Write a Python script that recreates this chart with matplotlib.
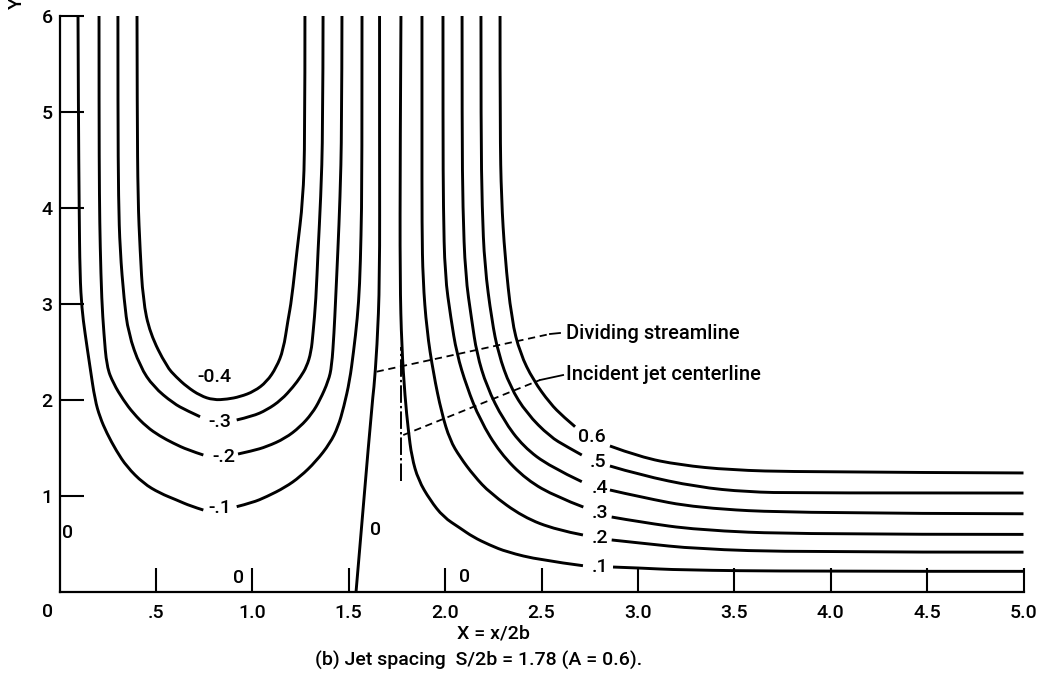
import matplotlib
matplotlib.use("Agg")
import matplotlib.pyplot as plt
from matplotlib.path import Path
from matplotlib.patches import PathPatch

plt.rcParams['font.family'] = ['Roboto', 'DejaVu Sans']
plt.rcParams['font.weight'] = 'medium'

# traced streamlines, labelled by stream-function value
# psi = -0.4 (label sits above the loop, line is unbroken)
m04_x = [0.402, 0.403, 0.407, 0.418, 0.433, 0.469, 0.556, 0.605, 0.660, 0.730, 0.798, 0.870,
         0.936, 1.010, 1.075, 1.125, 1.161, 1.185, 1.204, 1.232, 1.263, 1.273, 1.273]
m04_y = [6.0, 5.0, 4.083, 3.5625, 3.042, 2.695, 2.347, 2.24, 2.139, 2.045, 2.0, 2.008,
         2.034, 2.09, 2.19, 2.34, 2.521, 2.833, 3.042, 3.5625, 4.083, 4.7, 6.0]

# psi = -0.3, left and right of its label
m03a_x = [0.303, 0.303, 0.306, 0.314, 0.335, 0.357, 0.418, 0.487, 0.590, 0.660, 0.729]
m03a_y = [6.0, 5.0, 4.083, 3.5625, 3.042, 2.695, 2.347, 2.139, 1.966, 1.89, 1.826]
m03b_x = [0.919, 1.000, 1.075, 1.150, 1.213, 1.250, 1.282, 1.305, 1.315, 1.330, 1.341, 1.355, 1.366, 1.367]
m03b_y = [1.792, 1.83, 1.896, 2.00, 2.139, 2.24, 2.347, 2.50, 2.695, 3.04, 3.56, 4.1, 4.8, 6.0]

# psi = -0.2
m02a_x = [0.205, 0.205, 0.207, 0.211, 0.219, 0.230, 0.245, 0.279, 0.331, 0.383, 0.452, 0.520, 0.590, 0.665, 0.746]
m02a_y = [6.0, 5.0, 4.1, 3.6, 3.04, 2.70, 2.347, 2.174, 2.0, 1.861, 1.72, 1.625, 1.55, 1.48, 1.427]
m02b_x = [0.926, 1.000, 1.075, 1.170, 1.248, 1.310, 1.351, 1.395, 1.412, 1.424, 1.432, 1.444, 1.455, 1.464, 1.465]
m02b_y = [1.4375, 1.47, 1.514, 1.60, 1.72, 1.86, 2.0, 2.20, 2.35, 2.70, 3.04, 3.56, 4.1, 4.8, 6.0]

# psi = -0.1
m01a_x = [0.096, 0.098, 0.102, 0.106, 0.116, 0.132, 0.158, 0.184, 0.210, 0.245, 0.295, 0.349, 0.435,
          0.520, 0.608, 0.680, 0.746]
m01a_y = [6.0, 5.0, 4.0, 3.3, 2.95, 2.70, 2.347, 2.0, 1.82, 1.656, 1.47, 1.305, 1.132,
          1.03, 0.958, 0.895, 0.854]
m01b_x = [0.919, 1.000, 1.075, 1.170, 1.248, 1.330, 1.403, 1.445, 1.475, 1.505, 1.525, 1.545, 1.557,
          1.564, 1.569, 1.569]
m01b_y = [0.889, 0.93, 0.993, 1.09, 1.20, 1.36, 1.549, 1.72, 1.93, 2.2, 2.5, 2.85, 3.2,
          3.7, 4.3, 6.0]

# psi = 0, dividing streamline
zero_x = [1.660, 1.660, 1.661, 1.647, 1.630, 1.620, 1.538]
zero_y = [6.0, 4.6, 3.25, 2.55, 2.10, 1.95, 0.0]

# psi = 0.1 ... 0.6, each split around its label
p01a_x = [1.771, 1.767, 1.766, 1.775, 1.792, 1.809, 1.827, 1.861, 1.922, 1.991, 2.077, 2.145, 2.230,
          2.320, 2.492, 2.715]
p01a_y = [6.0, 4.604, 3.25, 2.552, 2.031, 1.688, 1.406, 1.167, 0.958, 0.781, 0.667, 0.573, 0.49,
          0.417, 0.333, 0.274]
p01b_x = [2.871, 3.011, 3.218, 3.841, 5.0]
p01b_y = [0.260, 0.250, 0.229, 0.215, 0.215]

p02a_x = [1.880, 1.880, 1.880, 1.885, 1.905, 1.939, 1.982, 2.025, 2.077, 2.150, 2.233, 2.404, 2.579, 2.715]
p02a_y = [6.0, 4.8, 3.8, 3.25, 2.729, 2.281, 1.865, 1.583, 1.406, 1.21, 1.031, 0.781, 0.646, 0.594]
p02b_x = [2.864, 3.011, 3.307, 3.841, 5.0]
p02b_y = [0.542, 0.510, 0.448, 0.415, 0.415]

p03a_x = [1.989, 1.989, 1.991, 1.999, 2.030, 2.060, 2.112, 2.181, 2.285, 2.423, 2.579, 2.717]
p03a_y = [6.0, 4.8, 4.0, 3.3, 2.85, 2.486, 2.139, 1.792, 1.448, 1.167, 0.990, 0.885]
p03b_x = [2.864, 3.011, 3.307, 3.841, 5.0]
p03b_y = [0.781, 0.729, 0.646, 0.600, 0.600]

p04a_x = [2.088, 2.088, 2.092, 2.105, 2.138, 2.164, 2.216, 2.302, 2.406, 2.544, 2.709]
p04a_y = [6.0, 4.8, 4.0, 3.3, 2.833, 2.486, 2.139, 1.792, 1.514, 1.306, 1.149]
p04b_x = [2.855, 3.011, 3.307, 3.841, 5.0]
p04b_y = [1.0625, 0.990, 0.875, 0.820, 0.815]

p05a_x = [2.186, 2.186, 2.192, 2.205, 2.242, 2.276, 2.337, 2.423, 2.544, 2.631, 2.709]
p05a_y = [6.0, 4.8, 4.0, 3.4, 2.833, 2.486, 2.139, 1.861, 1.618, 1.514, 1.427]
p05b_x = [2.855, 3.011, 3.307, 3.566, 3.841, 5.0]
p05b_y = [1.3125, 1.219, 1.094, 1.042, 1.031, 1.031]

p06a_x = [2.285, 2.285, 2.292, 2.310, 2.345, 2.389, 2.457, 2.544, 2.613, 2.674]
p06a_y = [6.0, 4.8, 4.1, 3.5, 2.833, 2.486, 2.208, 1.965, 1.826, 1.722]
p06b_x = [2.855, 3.011, 3.218, 3.478, 3.841, 5.0]
p06b_y = [1.521, 1.406, 1.323, 1.271, 1.25, 1.24]

# streamline labels: text, x, y
psi_labels = [("-0.4", 0.806, 2.243), ("-.3", 0.832, 1.774), ("-.2", 0.850, 1.41), ("-.1", 0.832, 0.872),
              ("0.6", 2.760, 1.618), (".5", 2.793, 1.354), (".4", 2.803, 1.083),
              (".3", 2.803, 0.823), (".2", 2.803, 0.562), (".1", 2.803, 0.26)]
zero_labels = [(0.044, 0.615), (1.637, 0.646), (0.927, 0.143), (2.103, 0.16)]

# incident jet centerline and leader lines
jet_x = 1.77
jet_y = [1.16, 2.55]
divide_lead_x = [1.645, 2.544]
divide_lead_y = [2.295, 2.6875]
divide_tail_x = [2.544, 2.596]
divide_tail_y = [2.6875, 2.698]
jet_lead_x = [1.783, 2.492]
jet_lead_y = [1.635, 2.208]
jet_tail_x = [2.492, 2.612]
jet_tail_y = [2.208, 2.26]

xticks = [0.5, 1.0, 1.5, 2.0, 2.5, 3.0, 3.5, 4.0, 4.5, 5.0]
xtick_labels = [".5", "1.0", "1.5", "2.0", "2.5", "3.0", "3.5", "4.0", "4.5", "5.0"]
yticks = [1, 2, 3, 4, 5, 6]


def smooth_path(xs, ys):
    # quadratic curve through the midpoints, using the traced points as controls
    pts = list(zip(xs, ys))
    if len(pts) < 3:
        return Path(pts, [Path.MOVETO, Path.LINETO])
    verts = [pts[0]]
    codes = [Path.MOVETO]
    for i in range(1, len(pts) - 1):
        if i < len(pts) - 2:
            end = ((pts[i][0] + pts[i + 1][0]) / 2, (pts[i][1] + pts[i + 1][1]) / 2)
        else:
            end = pts[-1]
        verts += [pts[i], end]
        codes += [Path.CURVE3, Path.CURVE3]
    return Path(verts, codes)


fig = plt.figure(figsize=(10.44, 6.82), dpi=100)
ax = fig.add_axes([59.5 / 1044, 90 / 682, 964 / 1044, 576 / 682])
ax.set_xlim(0, 5)
ax.set_ylim(0, 6)

segments = [(m04_x, m04_y), (m03a_x, m03a_y), (m03b_x, m03b_y), (m02a_x, m02a_y), (m02b_x, m02b_y),
            (m01a_x, m01a_y), (m01b_x, m01b_y), (zero_x, zero_y),
            (p01a_x, p01a_y), (p01b_x, p01b_y), (p02a_x, p02a_y), (p02b_x, p02b_y),
            (p03a_x, p03a_y), (p03b_x, p03b_y), (p04a_x, p04a_y), (p04b_x, p04b_y),
            (p05a_x, p05a_y), (p05b_x, p05b_y), (p06a_x, p06a_y), (p06b_x, p06b_y)]
for sx, sy in segments:
    ax.add_patch(PathPatch(smooth_path(sx, sy), facecolor="none", edgecolor="black",
                           lw=2.1, capstyle="butt", clip_on=False))

ax.plot([jet_x, jet_x], jet_y, color="black", lw=1.4, linestyle=(0, (9, 1.6, 1.2, 1.6)))
ax.plot(divide_lead_x, divide_lead_y, color="black", lw=1.3, linestyle=(0, (4, 2.6)))
ax.plot(divide_tail_x, divide_tail_y, color="black", lw=1.3)
ax.plot(jet_lead_x, jet_lead_y, color="black", lw=1.3, linestyle=(0, (4, 2.6)))
ax.plot(jet_tail_x, jet_tail_y, color="black", lw=1.3)
ax.text(2.627, 2.69, "Dividing streamline", fontsize=14.5, ha="left", va="center")
ax.text(2.627, 2.265, "Incident jet centerline", fontsize=14.5, ha="left", va="center")

for txt, lx, ly in psi_labels:
    ax.text(lx, ly, txt, fontsize=14, ha="center", va="center")
for lx, ly in zero_labels:
    ax.text(lx, ly, "0", fontsize=14, ha="center", va="center")

for side in ("top", "right"):
    ax.spines[side].set_visible(False)
for side in ("left", "bottom"):
    ax.spines[side].set_linewidth(1.6)

ax.set_xticks(xticks)
ax.set_xticklabels(xtick_labels)
ax.set_yticks(yticks)
ax.tick_params(direction="in", length=17, width=1.5, labelsize=14)
ax.tick_params(axis="x", pad=9)
ax.tick_params(axis="y", pad=5)
ax.text(-0.06, -0.205, "0", fontsize=14, ha="center", va="center")

fig.text(493 / 1044, 1 - 634 / 682, "X = x/2b", fontsize=14, ha="center", va="center")
fig.text(479 / 1044, 1 - 660 / 682, "(b) Jet spacing  S/2b = 1.78 (A = 0.6).", fontsize=14,
         ha="center", va="center")
fig.text(17 / 1044, 1 - 3 / 682, "Y", fontsize=14, rotation=90, ha="center", va="center")

fig.savefig("out.png", dpi=100)
